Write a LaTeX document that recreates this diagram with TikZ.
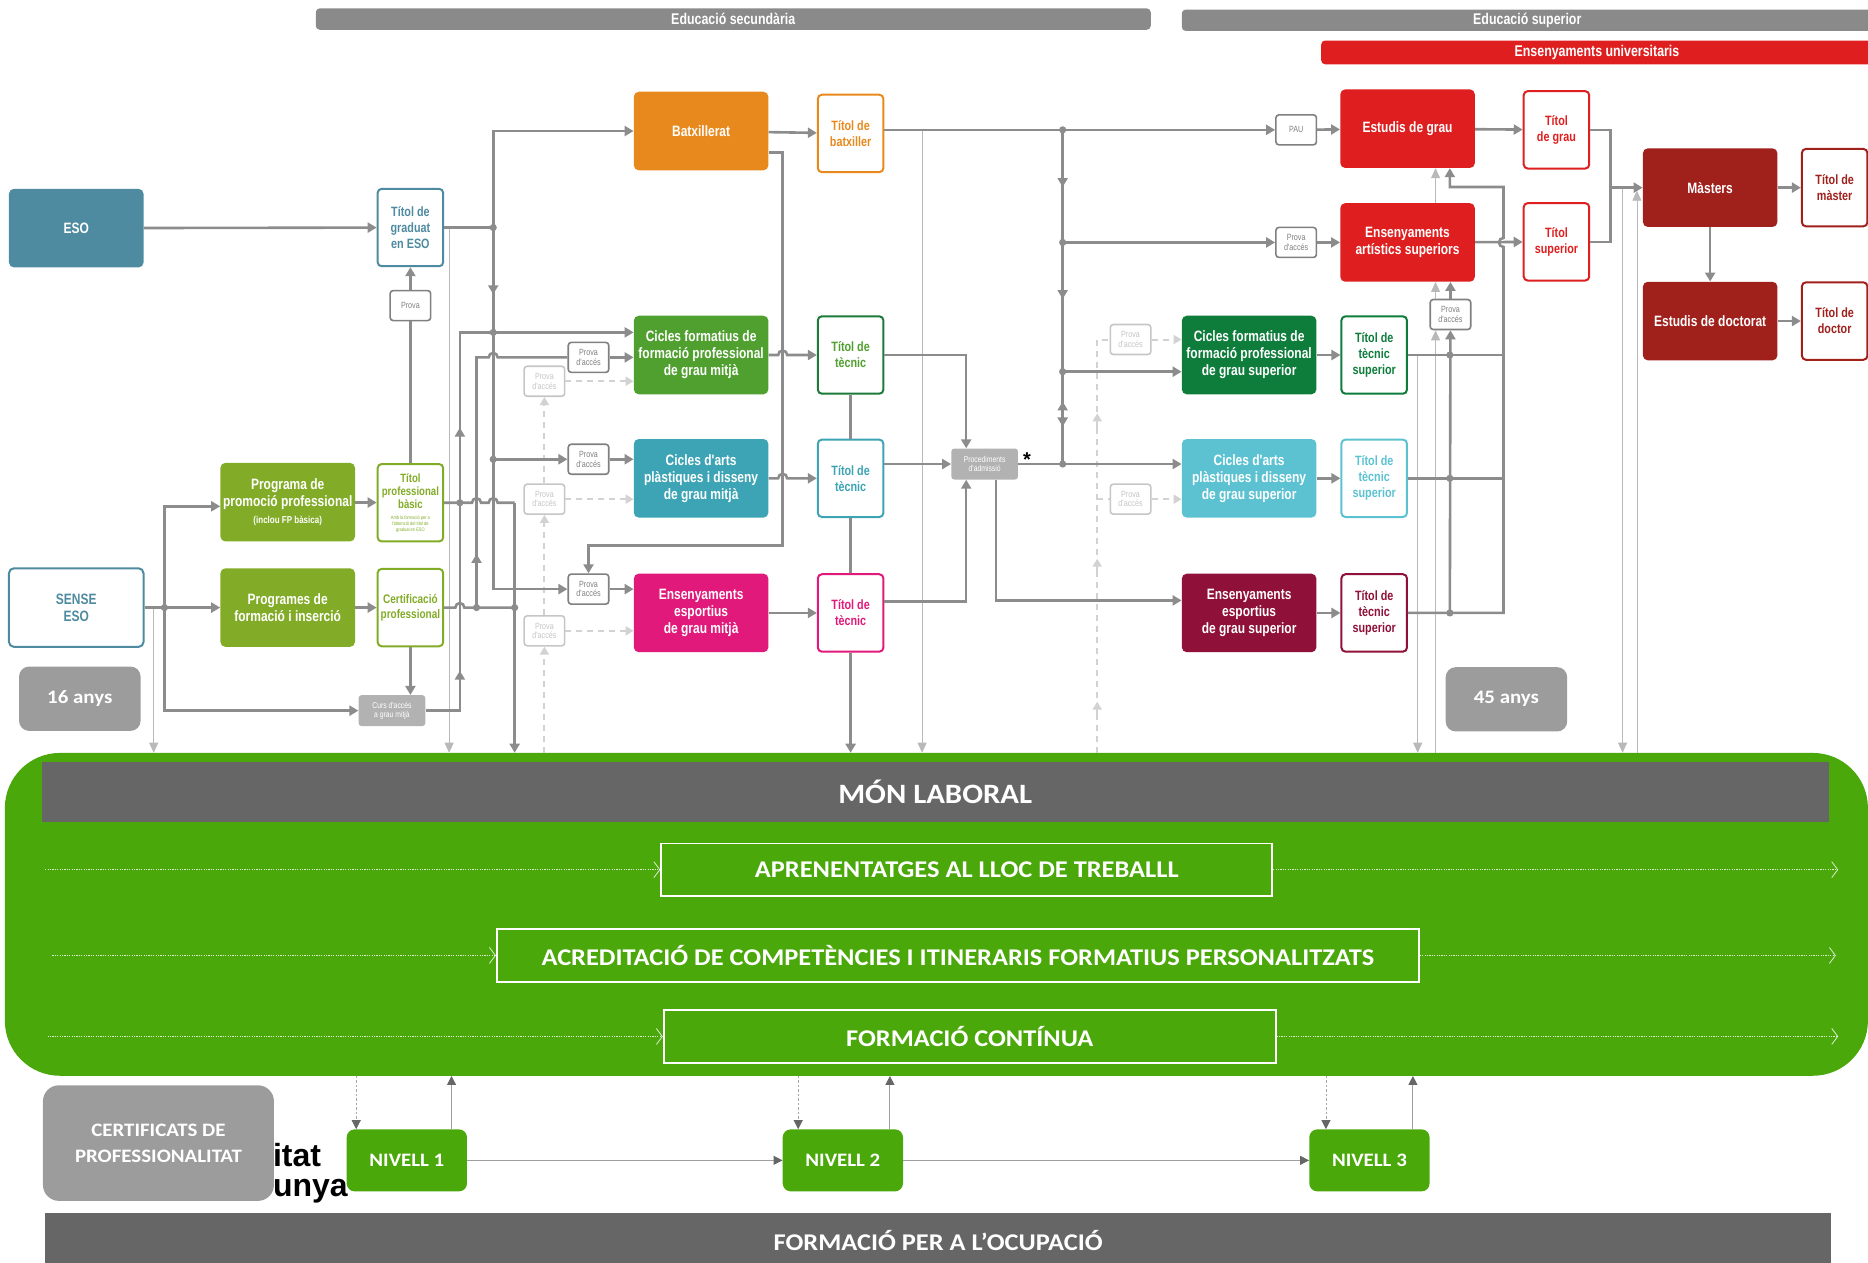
\documentclass[tikz,border=0pt]{standalone}
\usepackage{fontspec}
\setmainfont{Liberation Sans}
\newfontfamily\condfont[FakeStretch=0.8]{Liberation Sans}
\newfontfamily\calfont[FakeStretch=1.1]{Carlito}
\usetikzlibrary{arrows.meta,positioning}

\definecolor{linegray}{HTML}{8C8C8C}
\definecolor{bargray}{HTML}{8A8A8A}
\definecolor{darkbar}{HTML}{666666}
\definecolor{esoblue}{HTML}{4F8BA0}
\definecolor{batxorange}{HTML}{E8891D}
\definecolor{fpgreen}{HTML}{50A030}
\definecolor{fpdark}{HTML}{1E7A3A}
\definecolor{artsteal}{HTML}{3CA4B4}
\definecolor{sportpink}{HTML}{E0197A}
\definecolor{olive}{HTML}{82AC27}
\definecolor{unired}{HTML}{DF1F1F}
\definecolor{darkred}{HTML}{A0201C}
\definecolor{supgreen}{HTML}{0E7D3B}
\definecolor{supteal}{HTML}{5CC2D2}
\definecolor{supwine}{HTML}{8F1038}
\definecolor{workgreen}{HTML}{4AA80A}
\definecolor{agegray}{HTML}{9C9C9C}

\tikzset{
  stage/.style={rectangle, rounded corners=5pt, minimum width=134.6pt, minimum height=78.6pt, inner sep=1pt, align=center, text=white, font=\condfont\bfseries\fontsize{15}{17}\selectfont},
  titbox/.style={rectangle, rounded corners=4pt, draw=#1, line width=2pt, fill=white, text=#1, minimum width=65.5pt, minimum height=77.4pt, inner sep=1pt, align=center, font=\condfont\bfseries\fontsize{13.5}{16}\selectfont},
  provabox/.style={rectangle, rounded corners=3pt, draw=#1, line width=1.6pt, fill=white, text=#1, minimum width=40.5pt, minimum height=30pt, inner sep=0pt, align=center, font=\condfont\fontsize{9}{9.5}\selectfont},
  provabox/.default=gray,
  graybox/.style={rectangle, rounded corners=3pt, fill=gray!60, text=white, minimum width=66.7pt, minimum height=31pt, inner sep=0pt, align=center, font=\condfont\fontsize{8.5}{9}\selectfont},
  band/.style={rectangle, rounded corners=4pt, fill=bargray, text=white, minimum height=21.4pt, inner sep=0pt, font=\condfont\bfseries\fontsize{15.5}{15.5}\selectfont},
  agebox/.style={rectangle, rounded corners=10pt, fill=agegray, text=white, minimum width=121.5pt, minimum height=64.3pt, font=\calfont\bfseries\fontsize{19}{19}\selectfont},
  route/.style={rectangle, draw=white, line width=1.8pt, minimum height=52.4pt, inner sep=0pt, text=white, font=\calfont\bfseries\fontsize{24}{24}\selectfont},
  level/.style={rectangle, rounded corners=8pt, fill=workgreen, text=white, minimum width=120.3pt, minimum height=62pt, inner sep=0pt, font=\calfont\bfseries\fontsize{19}{19}\selectfont},
  darkband/.style={rectangle, fill=darkbar, text=white, inner sep=0pt},
  conn/.style={draw=linegray, line width=2.6pt},
  arr/.style={-{Triangle[length=9pt,width=10pt]}},
  thinl/.style={draw=gray!55, line width=0.7pt},
  arrthin/.style={-{Triangle[length=10pt,width=9pt]}},
  dashl/.style={draw=gray!35, line width=2pt, dash pattern=on 6pt off 5pt},
  arrlight/.style={-{Triangle[length=8pt,width=9pt]}},
  dotw/.style={draw=white!80!workgreen, line width=0.8pt, dash pattern=on 1.2pt off 1.2pt},
  barb/.style={-{Straight Barb[length=6pt,width=16pt,line width=0.8pt]}},
  nline/.style={draw=gray!75, line width=1pt},
  ndash/.style={draw=gray!70, line width=0.8pt, dash pattern=on 2.5pt off 2pt},
  narr/.style={-{Triangle[length=9pt,width=9pt,color=darkbar]}}
}

\begin{document}
\begin{tikzpicture}[x=1.1913pt,y=-1.1913pt]
    \useasboundingbox (0,0) rectangle (1568,1060);

    \node[band, minimum width=835pt] (secundaria) at (615.5,16) {Educació secundària};
    \node[band, minimum width=691pt] (superior) at (1282,17) {Educació superior};
    \node[band, fill=unired, minimum width=551.6pt, minimum height=23.8pt] (universitaris) at (1340.5,44) {Ensenyaments universitaris};

    \node[stage, fill=esoblue] (eso) at (64,191.5) {ESO};
    \node[titbox=esoblue] (graduat) at (344.5,191) {Títol de\\graduat\\en ESO};
    \node[provabox] (provaeso) at (344.5,256.5) {Prova};
    \node[stage, fill=batxorange] (batx) at (588.5,110) {Batxillerat};
    \node[titbox=batxorange] (titbatx) at (714,112) {Títol de\\batxiller};
    \node[stage, fill=fpgreen] (cfgm) at (588.5,298) {Cicles formatius de\\formació professional\\de grau mitjà};
    \node[titbox=fpgreen, draw=fpdark] (titcfgm) at (714,298) {Títol de\\tècnic};
    \node[stage, fill=artsteal] (arts) at (588.5,401.5) {Cicles d'arts\\plàstiques i disseny\\de grau mitjà};
    \node[titbox=artsteal] (titarts) at (714,401.5) {Títol de\\tècnic};
    \node[stage, fill=sportpink] (esport) at (588.5,514.5) {Ensenyaments\\esportius\\de grau mitjà};
    \node[titbox=sportpink] (titesport) at (714,514.5) {Títol de\\tècnic};

    \node[stage, fill=olive] (ppp) at (241.5,421.5) {Programa de\\promoció professional\\ {\fontsize{10}{12}\selectfont (inclou FP bàsica)}};
    \node[titbox=olive, font=\condfont\bfseries\fontsize{12}{13}\selectfont] (titbasic) at (344.5,422) {Títol\\professional\\bàsic\\[-2pt] {\fontsize{5}{6}\selectfont\mdseries Amb la formació per a}\\[-7pt] {\fontsize{5}{6}\selectfont\mdseries l'obtenció del títol de}\\[-7pt] {\fontsize{5}{6}\selectfont\mdseries graduat en ESO}};
    \node[stage, fill=white, draw=esoblue, line width=2pt, text=esoblue] (sense) at (64,510) {SENSE\\ESO};
    \node[stage, fill=olive] (pfi) at (241.5,510) {Programes de\\formació i inserció};
    \node[titbox=olive, font=\condfont\bfseries\fontsize{12.5}{15}\selectfont] (certif) at (344.5,510) {Certificació\\professional};
    \node[graybox] (curs) at (329,596.5) {Curs d'accés\\a grau mitjà};
    \node[agebox] (anys16) at (67,586.5) {16 anys};

    \node[provabox] (pcfgm) at (494,300) {Prova\\d'accés};
    \node[provabox=gray!45] (pcfgml) at (457,320) {Prova\\d'accés};
    \node[provabox] (parts) at (494,385.5) {Prova\\d'accés};
    \node[provabox=gray!45] (partsl) at (457,419) {Prova\\d'accés};
    \node[provabox] (pesport) at (494,494.5) {Prova\\d'accés};
    \node[provabox=gray!45] (pesportl) at (457,529.5) {Prova\\d'accés};

    \node[graybox, font=\condfont\fontsize{8.5}{9}\selectfont] (proc) at (826.5,389.5) {Procediments\\d'admissió};
    \node[inner sep=0pt, font=\bfseries\fontsize{20}{20}\selectfont] (asterisc) at (862,386) {*};

    \node[provabox] (pau) at (1088,109) {PAU};
    \node[stage, fill=unired] (grau) at (1181.5,108) {Estudis de grau};
    \node[titbox=unired] (titgrau) at (1306.5,109) {Títol\\de grau};
    \node[provabox] (pas) at (1088,203.5) {Prova\\d'accés};
    \node[stage, fill=unired] (artsup) at (1181.5,203.5) {Ensenyaments\\artístics superiors};
    \node[titbox=unired] (titsup) at (1306.5,203) {Títol\\superior};
    \node[provabox] (pasb) at (1217.5,264) {Prova\\d'accés};
    \node[stage, fill=darkred] (masters) at (1435.5,157.5) {Màsters};
    \node[titbox=darkred] (titmaster) at (1540,157.5) {Títol de\\màster};
    \node[stage, fill=darkred] (doctorat) at (1435.5,269.5) {Estudis de doctorat};
    \node[titbox=darkred] (titdoctor) at (1540,269.5) {Títol de\\doctor};

    \node[provabox=gray!45] (pcfgs) at (949,285) {Prova\\d'accés};
    \node[stage, fill=supgreen] (cfgs) at (1048.5,298) {Cicles formatius de\\formació professional\\de grau superior};
    \node[titbox=supgreen] (titcfgs) at (1153.5,298) {Títol de\\tècnic\\superior};
    \node[provabox=gray!45] (partssl) at (949,419) {Prova\\d'accés};
    \node[stage, fill=supteal] (artssup) at (1048.5,401.5) {Cicles d'arts\\plàstiques i disseny\\de grau superior};
    \node[titbox=supteal] (titartssup) at (1153.5,401.5) {Títol de\\tècnic\\superior};
    \node[stage, fill=supwine] (esportsup) at (1048.5,514.5) {Ensenyaments\\esportius\\de grau superior};
    \node[titbox=supwine] (titesportsup) at (1153.5,514.5) {Títol de\\tècnic\\superior};
    \node[agebox] (anys45) at (1264.5,587) {45 anys};

    \node[fill=workgreen, rounded corners=55pt, minimum width=1863pt, minimum height=322.8pt, inner sep=0pt] (laboral) at (786,767.5) {};
    \node[darkband, minimum width=1787pt, minimum height=59.6pt, font=\calfont\bfseries\fontsize{28}{28}\selectfont] (monbar) at (785,665) {MÓN LABORAL};
    \node[route, minimum width=611pt] (aprendre) at (811.5,730) {APRENENTATGES AL LLOC DE TREBALLL};
    \node[route, minimum width=922pt] (acredita) at (804,802) {ACREDITACIÓ DE COMPETÈNCIES I ITINERARIS FORMATIUS PERSONALITZATS};
    \node[route, minimum width=612pt] (continua) at (814,870) {FORMACIÓ CONTÍNUA};

    \node[inner sep=0pt, anchor=base west, font=\bfseries\fontsize{32}{32}\selectfont] (logoa) at (229,979) {itat};
    \node[inner sep=0pt, anchor=base west, font=\bfseries\fontsize{32}{32}\selectfont] (logob) at (229,1004) {unya};
    \node[rectangle, rounded corners=16pt, fill=agegray, text=white, minimum width=231pt, minimum height=115.6pt, align=center, font=\calfont\bfseries\fontsize{19}{26}\selectfont] (certificats) at (133,959.5) {CERTIFICATS DE\\PROFESSIONALITAT};
    \node[level] (nivell1) at (341.5,974) {NIVELL 1};
    \node[level] (nivell2) at (707.5,974) {NIVELL 2};
    \node[level] (nivell3) at (1149.5,974) {NIVELL 3};
    \node[darkband, minimum width=1786pt, minimum height=56pt, font=\calfont\bfseries\fontsize{24}{24}\selectfont] (ocupacio) at (787.5,1041.5) {FORMACIÓ PER A L’OCUPACIÓ};

    \draw[thinl,arrthin] (129,510) -- (laboral.north -| 129,0);
    \draw[thinl,arrthin] (377,191) -- (laboral.north -| 377,0);
    \draw[thinl,arrthin] (774,109) -- (laboral.north -| 774,0);
    \draw[thinl,arrthin] (1190,298) -- (laboral.north -| 1190,0);
    \draw[thinl,arrthin] (1362,157.5) -- (laboral.north -| 1362,0);
    \draw[thinl,arrthin] (laboral.north -| 1374,0) -- (1374,160);
    \draw[thinl,arrthin] (laboral.north -| 1205,0) -- (pasb.south -| 1205,0);
    \draw[thinl,arrthin] (pasb.north -| 1205,0) -- (artsup.south -| 1205,0);
    \draw[thinl,arrthin] (artsup.north -| 1205,0) -- (grau.south -| 1205,0);

    \draw[dashl,arrlight] (laboral.north -| 457,0) -- (pesportl);
    \draw[dashl,arrlight] (pesportl) -- (partsl);
    \draw[dashl,arrlight] (partsl) -- (pcfgml);
    \draw[dashl,arrlight] (pcfgml) -- (pcfgml -| cfgm.west);
    \draw[dashl,arrlight] (partsl) -- (partsl -| arts.west);
    \draw[dashl,arrlight] (pesportl) -- (pesportl -| esport.west);
    \draw[dashl] (laboral.north -| 921,0) |- (pcfgs);
    \draw[dashl] (921,419) -- (partssl);
    \draw[dashl,arrlight] (pcfgs) -- (pcfgs -| cfgs.west);
    \draw[dashl,arrlight] (partssl) -- (partssl -| artssup.west);
    \draw[draw=gray!35, line width=2pt, arrlight] (921,604) -- (921,589);
    \draw[draw=gray!35, line width=2pt, arrlight] (921,484) -- (921,469);
    \draw[draw=gray!35, line width=2pt, arrlight] (921,362) -- (921,347);

    \draw[conn,arr] (eso) -- (graduat);
    \draw[conn,arr] (provaeso) -- (graduat);
    \draw[conn] (provaeso) -- (titbasic);
    \draw[conn] (graduat) -- (414,191);
    \draw[conn,arr] (414,191) |- (batx);
    \draw[conn,arr] (414,191) |- (pesport);
    \draw[conn,arr] (414,215) -- (414,247);
    \draw[conn,arr] (414,385.5) -- (parts);
    \draw[conn,arr] (parts) -- (parts -| arts.west);
    \draw[conn,arr] (pesport) -- (pesport -| esport.west);

    \draw[conn] (sense) -- (138,510);
    \draw[conn,arr] (138,510) |- (ppp.west |- 0,425);
    \draw[conn,arr] (138,510) -- (pfi);
    \draw[conn,arr] (138,510) |- (curs);
    \draw[conn,arr] (ppp) -- (titbasic);
    \draw[conn,arr] (pfi) -- (certif);
    \draw[conn,arr] (certif) -- (certif |- curs.north);

    \draw[conn,arr] (curs) -| (386,279) -- (cfgm.west |- 0,279);
    \draw[conn,arr] (386,586) -- (386,563);
    \draw[conn,arr] (386,382) -- (386,359);
    \draw[conn] (titbasic) -- (396.2,422) arc[start angle=180,end angle=0,radius=4.5pt] -- (410.2,422) arc[start angle=180,end angle=0,radius=4.5pt] -- (432,422);
    \draw[conn,arr] (432,422) -- (laboral.north -| 432,0);
    \draw[conn] (certif) -- (382.2,510) arc[start angle=180,end angle=0,radius=4.5pt] -- (432,510);
    \draw[conn] (400,510) -- (400,300) -- (410.2,300) arc[start angle=180,end angle=0,radius=4.5pt] -- (pcfgm);
    \draw[conn,arr] (400,488) -- (400,465);
    \draw[conn,arr] (pcfgm) -- (pcfgm -| cfgm.west);

    \draw[conn,arr] (batx) -- (titbatx);
    \draw[conn,arr] (batx.east |- 0,128) -| (657,458) -| (pesport);
    \draw[conn,arr] (cfgm) -- (653.2,298) arc[start angle=180,end angle=0,radius=4.5pt] -- (titcfgm);
    \draw[conn,arr] (arts) -- (653.2,401.5) arc[start angle=180,end angle=0,radius=4.5pt] -- (titarts);
    \draw[conn,arr] (esport) -- (titesport);
    \draw[conn] (titcfgm) -- (titarts);
    \draw[conn] (titarts) -- (titesport);
    \draw[conn,arr] (titesport) -- (titesport |- laboral.north);

    \draw[conn,arr] (titcfgm) -| (proc.north -| 811,0);
    \draw[conn,arr] (titarts.east |- proc) -- (proc);
    \draw[conn,arr] (titesport.east |- 0,505) -| (proc.south -| 811,0);
    \draw[conn,arr] (proc) -- (proc -| artssup.west);
    \draw[conn,arr] (proc.south -| 836,0) |- (esportsup.west |- 0,504);

    \draw[conn] (titbatx.east |- 0,109) -- (892,109);
    \draw[conn,arr] (892,109) -- (pau);
    \draw[conn,arr] (pau) -- (grau);
    \draw[conn] (892,109) -- (892,389.5);
    \draw[conn,arr] (892,130) -- (892,157);
    \draw[conn,arr] (892,225) -- (892,251);
    \draw[conn,arr] (892,360) -- (892,337);
    \draw[conn,arr] (892,335) -- (892,358);
    \draw[conn,arr] (892,203.5) -- (pas);
    \draw[conn,arr] (pas) -- (artsup);
    \draw[conn,arr] (892,312) -- (cfgs.west |- 0,312);

    \draw[conn,arr] (grau) -- (titgrau);
    \draw[conn,arr] (artsup) -- (titsup);
    \draw[conn,arr] (titgrau) -| (1352,157.5) -- (masters);
    \draw[conn] (titsup) -| (1352,157.5);
    \draw[conn,arr] (masters) -- (titmaster);
    \draw[conn,arr] (masters) -- (doctorat);
    \draw[conn,arr] (doctorat) -- (titdoctor);

    \draw[conn,arr] (cfgs) -- (titcfgs);
    \draw[conn,arr] (artssup) -- (titartssup);
    \draw[conn,arr] (esportsup) -- (titesportsup);
    \draw[conn] (titcfgs) -- (1262,298);
    \draw[conn] (titartssup) -- (1262,401.5);
    \draw[conn,arr] (titesportsup) -- (1262,514.5) -- (1262,207.3) arc[start angle=270,end angle=90,radius=4.5pt] -- (1262,157) -| (grau.south -| 1217,0);
    \draw[conn,arr] (1217,514.5) -- (pasb);
    \draw[conn,arr] (pasb) -- (pasb |- artsup.south);

    \fill[linegray] (414,191) circle[radius=3.6pt];
    \fill[linegray] (414,279) circle[radius=3.6pt];
    \fill[linegray] (414,385.5) circle[radius=3.6pt];
    \fill[linegray] (386,422) circle[radius=3.6pt];
    \fill[linegray] (400,510) circle[radius=3.6pt];
    \fill[linegray] (432,510) circle[radius=3.6pt];
    \fill[linegray] (138,510) circle[radius=3.6pt];
    \fill[linegray] (892,109) circle[radius=3.6pt];
    \fill[linegray] (892,203.5) circle[radius=3.6pt];
    \fill[linegray] (892,312) circle[radius=3.6pt];
    \fill[linegray] (892,389.5) circle[radius=3.6pt];
    \fill[linegray] (1217,298) circle[radius=3.6pt];
    \fill[linegray] (1217,401.5) circle[radius=3.6pt];
    \fill[linegray] (1217,514.5) circle[radius=3.6pt];

    \draw[dotw,barb] (aprendre.west -| 38,0) -- (aprendre.west);
    \draw[dotw,barb] (aprendre) -- (aprendre.east -| 1543,0);
    \draw[dotw,barb] (acredita.west -| 44,0) -- (acredita.west);
    \draw[dotw,barb] (acredita) -- (acredita.east -| 1541,0);
    \draw[dotw,barb] (continua.west -| 40,0) -- (continua.west);
    \draw[dotw,barb] (continua) -- (continua.east -| 1543,0);

    \draw[nline,narr] (nivell1) -- (nivell2);
    \draw[nline,narr] (nivell2) -- (nivell3);
    \draw[ndash,narr] (laboral.south -| 299,0) -- (nivell1.north -| 299,0);
    \draw[nline,narr] (nivell1.north -| 379,0) -- (laboral.south -| 379,0);
    \draw[ndash,narr] (laboral.south -| 670,0) -- (nivell2.north -| 670,0);
    \draw[nline,narr] (nivell2.north -| 747,0) -- (laboral.south -| 747,0);
    \draw[ndash,narr] (laboral.south -| 1113,0) -- (nivell3.north -| 1113,0);
    \draw[nline,narr] (nivell3.north -| 1186,0) -- (laboral.south -| 1186,0);

\end{tikzpicture}
\end{document}
